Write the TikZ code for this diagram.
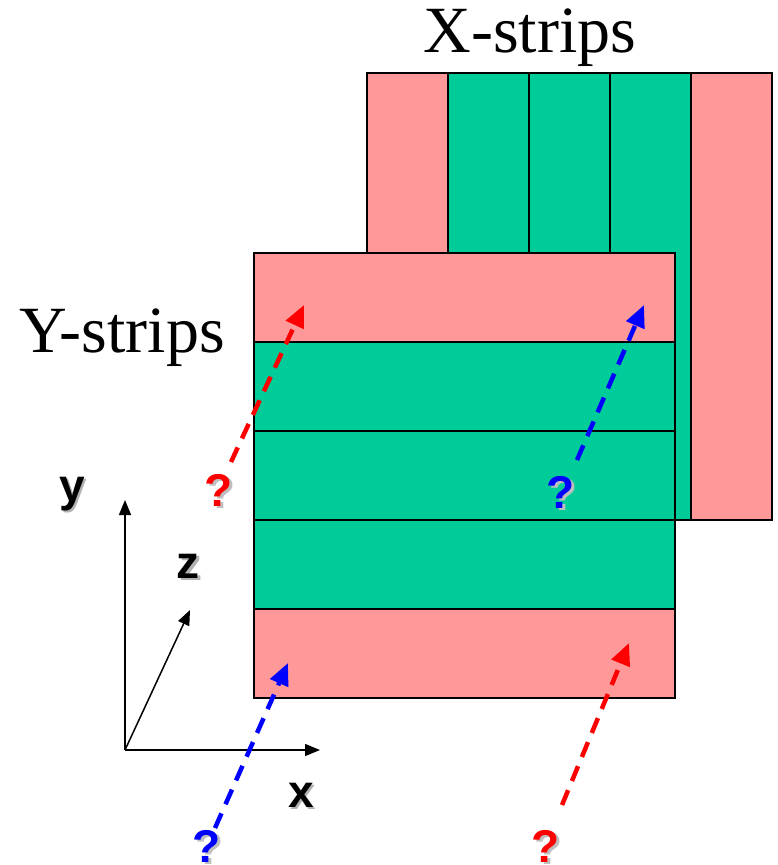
\documentclass[tikz,border=0pt]{standalone}
\usepackage{fontspec}
\setmainfont{Liberation Serif}
\newfontfamily\arialb{Liberation Sans}[BoldFont={* Bold}]
\usetikzlibrary{arrows.meta}
\definecolor{pinkstrip}{HTML}{FF9999}
\definecolor{greenstrip}{HTML}{00CC99}
\tikzset{
  strip/.style={draw=black, line width=2pt},
  pk/.style={strip, fill=pinkstrip},
  gr/.style={strip, fill=greenstrip},
  bigtxt/.style={font=\fontsize{66}{70}\selectfont, inner sep=0pt},
  ray/.style={line width=4.5pt, dash pattern=on 16pt off 10pt, -{Triangle[length=22pt,width=19pt]}},
  axis/.style={line width=1.5pt, -{Triangle[length=15pt,width=12pt]}},
  axlbl/.style={inner sep=0pt, font=\arialb\bfseries\fontsize{46}{46}\selectfont},
  qlbl/.style={inner sep=0pt, font=\arialb\bfseries\fontsize{46}{46}\selectfont},
}
\begin{document}
\begin{tikzpicture}[x=1pt,y=-1pt]
\useasboundingbox (0,0) rectangle (778,865);
% X-strips panel
\draw[pk] (367,73) rectangle (448,520);
\draw[gr] (448,73) rectangle (529,520);
\draw[gr] (529,73) rectangle (610,520);
\draw[gr] (610,73) rectangle (691,520);
\draw[pk] (691,73) rectangle (772,520);
\node[bigtxt] (xl) at (530,38) {X-strips};
% Y-strips panel
\draw[pk] (254,253) rectangle (675,342);
\draw[gr] (254,342) rectangle (675,431);
\draw[gr] (254,431) rectangle (675,520);
\draw[gr] (254,520) rectangle (675,609);
\draw[pk] (254,609) rectangle (675,698);
\node[bigtxt] (yl) at (122,338) {Y-strips};
% axes
\coordinate (o) at (125,750);
\coordinate (ye) at (125,500);
\coordinate (xe) at (320,750);
\coordinate (ze) at (190,610);
\draw[axis] (o) -- (ye);
\draw[axis] (o) -- (xe);
\draw[axis] (o) -- (ze);
\foreach \n/\px/\py/\t in {ly/72/494/y, lz/188/566/z, lx/301/795/x}{
  \node[axlbl, text=black!30] at (\px+2.5,\py+2.5) {\t};
  \node[axlbl] (\n) at (\px,\py) {\t};
}
% question marks
\foreach \n/\px/\py/\c in {q1/219/490/red, q2/561/492/blue, q3/207/846/blue, q4/546/846/red}{
  \node[qlbl, text=black!25] at (\px+2.5,\py+2.5) {?};
  \node[qlbl, text=\c] (\n) at (\px,\py) {?};
}
% dashed rays
\coordinate (s1) at (231,462); \coordinate (t1) at (304,305);
\coordinate (s2) at (577,460); \coordinate (t2) at (644,305);
\coordinate (s3) at (215,828); \coordinate (t3) at (288,663);
\coordinate (s4) at (562,805); \coordinate (t4) at (629,643);
\draw[ray, red] (s1) -- (t1);
\draw[ray, blue] (s2) -- (t2);
\draw[ray, blue] (s3) -- (t3);
\draw[ray, red] (s4) -- (t4);
\end{tikzpicture}
\end{document}
